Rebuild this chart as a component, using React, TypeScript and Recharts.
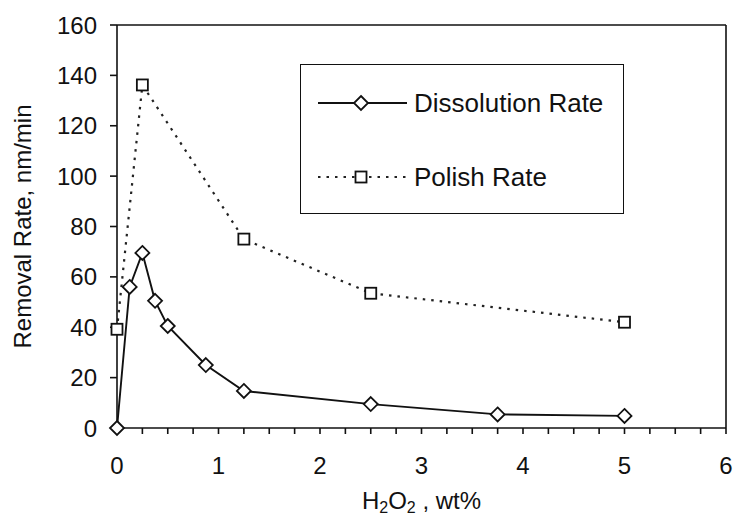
import React from "react";
import { LineChart, Line, XAxis, YAxis, ReferenceLine } from "recharts";

const dissolutionX = [0, 0.125, 0.25, 0.375, 0.5, 0.875, 1.25, 2.5, 3.75, 5];
const dissolutionY = [0, 56, 69.5, 50.5, 40.5, 25, 14.7, 9.5, 5.4, 4.8];
const polishX = [0, 0.25, 1.25, 2.5, 5];
const polishY = [39.2, 136.2, 75, 53.5, 42];
const xTicks = [0, 0.25, 0.5, 0.75, 1, 1.25, 1.5, 1.75, 2, 2.25, 2.5, 2.75, 3, 3.25, 3.5, 3.75, 4, 4.25, 4.5, 4.75, 5, 5.25, 5.5, 5.75, 6];
const yTicks = [0, 20, 40, 60, 80, 100, 120, 140, 160];
const seriesNames = ["Dissolution Rate", "Polish Rate"];

const dissolutionData = dissolutionX.map((x, i) => ({ x, y: dissolutionY[i] }));
const polishData = polishX.map((x, i) => ({ x, y: polishY[i] }));

const FONT = "'Liberation Sans', Arial, Helvetica, sans-serif";
const INK = "#111";

const Diamond = (props: any) => {
  const { cx, cy } = props;
  if (cx == null || cy == null) return null;
  const r = 7;
  return (
    <path
      d={`M${cx},${cy - r} L${cx + r},${cy} L${cx},${cy + r} L${cx - r},${cy} Z`}
      fill="#fff"
      stroke={INK}
      strokeWidth={1.8}
    />
  );
};

const Square = (props: any) => {
  const { cx, cy } = props;
  if (cx == null || cy == null) return null;
  const r = 5.5;
  return <rect x={cx - r} y={cy - r} width={2 * r} height={2 * r} fill="#fff" stroke={INK} strokeWidth={1.8} />;
};

const XLabel = (props: any) => {
  const vb = props.viewBox || { x: 117, y: 428, width: 609, height: 89 };
  const cx = vb.x + vb.width / 2;
  const y = vb.y + 81;
  return (
    <text x={cx} y={y} textAnchor="middle" fontFamily={FONT} fontSize={24} fill={INK}>
      <tspan>H</tspan>
      <tspan dy={4} fontSize={16}>2</tspan>
      <tspan dy={-4}>O</tspan>
      <tspan dy={4} fontSize={16}>2</tspan>
      <tspan dy={-4}> , wt%</tspan>
    </text>
  );
};

const YLabel = (props: any) => {
  const vb = props.viewBox || { x: 0, y: 25, width: 117, height: 403 };
  const cy = vb.y + vb.height / 2;
  const x = 31;
  return (
    <text
      x={x}
      y={cy}
      textAnchor="middle"
      transform={`rotate(-90, ${x}, ${cy})`}
      fontFamily={FONT}
      fontSize={24}
      fill={INK}
    >
      Removal Rate, nm/min
    </text>
  );
};

export default function App() {
  return (
    <div style={{ position: "absolute", left: 0, top: 0, width: 737, height: 517, background: "#fff" }}>
      <LineChart width={737} height={517} margin={{ top: 25, right: 11, left: 0, bottom: 0 }}>
        <XAxis
          type="number"
          dataKey="x"
          domain={[0, 6]}
          ticks={xTicks}
          interval={0}
          tickSize={6}
          tickMargin={23}
          height={89}
          stroke={INK}
          strokeWidth={1.6}
          tick={{ fontFamily: FONT, fontSize: 24, fill: INK }}
          tickFormatter={(v: number) => (Number.isInteger(v) ? String(v) : "")}
          label={<XLabel />}
        />
        <YAxis
          type="number"
          dataKey="y"
          domain={[0, 160]}
          ticks={yTicks}
          interval={0}
          tickSize={7}
          tickMargin={13}
          width={117}
          stroke={INK}
          strokeWidth={1.6}
          tick={{ fontFamily: FONT, fontSize: 24, fill: INK }}
          label={<YLabel />}
        />
        <ReferenceLine y={160} stroke={INK} strokeWidth={1.6} />
        <ReferenceLine x={6} stroke={INK} strokeWidth={1.6} />
        <Line
          data={polishData}
          dataKey="y"
          name={seriesNames[1]}
          type="linear"
          stroke="#222"
          strokeWidth={2.2}
          strokeDasharray="2.5 6"
          dot={<Square />}
          activeDot={false}
          isAnimationActive={false}
        />
        <Line
          data={dissolutionData}
          dataKey="y"
          name={seriesNames[0]}
          type="linear"
          stroke={INK}
          strokeWidth={1.9}
          dot={<Diamond />}
          activeDot={false}
          isAnimationActive={false}
        />
      </LineChart>
      <div
        style={{
          position: "absolute",
          left: 300,
          top: 64,
          width: 324,
          height: 150,
          border: `1.5px solid ${INK}`,
          boxSizing: "border-box",
          background: "#fff",
          fontFamily: FONT,
          fontSize: 26,
          color: INK,
        }}
      >
        <svg width={110} height={149} style={{ position: "absolute", left: 0, top: 0 }}>
          <line x1={17} y1={38} x2={106} y2={38} stroke={INK} strokeWidth={1.9} />
          <Diamond cx={60} cy={38} />
          <line x1={17} y1={112} x2={106} y2={112} stroke="#222" strokeWidth={2.2} strokeDasharray="2.5 6" />
          <Square cx={60} cy={112} />
        </svg>
        <div style={{ position: "absolute", left: 113, top: 38, transform: "translateY(-50%)", whiteSpace: "nowrap", lineHeight: 1 }}>
          {seriesNames[0]}
        </div>
        <div style={{ position: "absolute", left: 113, top: 112, transform: "translateY(-50%)", whiteSpace: "nowrap", lineHeight: 1 }}>
          {seriesNames[1]}
        </div>
      </div>
    </div>
  );
}
